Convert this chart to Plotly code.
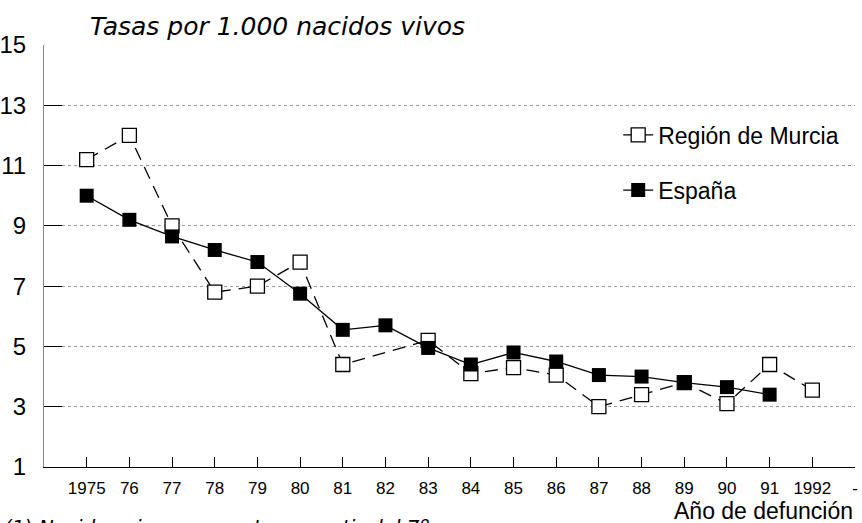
import plotly.graph_objects as go

# datos
anios = ['1975', '76', '77', '78', '79', '80', '81', '82', '83', '84',
         '85', '86', '87', '88', '89', '90', '91', '1992', '-']
murcia = [11.2, 12.0, 9.0, 6.8, 7.0, 7.8, 4.4, None, 5.2, 4.1,
          4.3, 4.05, 3.0, 3.4, 3.8, 3.1, 4.4, 3.55]
espana = [10.0, 9.2, 8.65, 8.2, 7.8, 6.75, 5.55, 5.7, 4.95, 4.4,
          4.8, 4.5, 4.05, 4.0, 3.8, 3.65, 3.4]
y_ticks = [1, 3, 5, 7, 9, 11, 13, 15]

pos = list(range(len(anios)))

fig = go.Figure()

fig.add_trace(go.Scatter(
    x=pos[:len(murcia)], y=murcia, name='Región de Murcia',
    mode='lines+markers', connectgaps=True,
    line=dict(color='black', width=1.3, dash='13px,8px'),
    marker=dict(symbol='square', size=14, color='white',
                line=dict(color='black', width=1.3)),
    legend='legend'
))
fig.add_trace(go.Scatter(
    x=pos[:len(espana)], y=espana, name='España',
    mode='lines+markers',
    line=dict(color='black', width=1.3),
    marker=dict(symbol='square', size=14, color='black'),
    legend='legend2'
))

leg_font = dict(family='Liberation Sans, Arial', size=23, color='black')
fig.update_layout(
    width=862, height=523,
    margin=dict(l=44, r=7, t=45, b=56),
    paper_bgcolor='white', plot_bgcolor='white',
    showlegend=True,
    legend=dict(x=0.708, xanchor='left', y=0.787, yanchor='middle',
                font=leg_font, bgcolor='rgba(0,0,0,0)'),
    legend2=dict(x=0.708, xanchor='left', y=0.656, yanchor='middle',
                 font=leg_font, bgcolor='rgba(0,0,0,0)'),
    xaxis=dict(
        range=[-1, len(anios) - 1], tickvals=pos, ticktext=anios,
        showgrid=False, zeroline=False, automargin=False,
        showline=True, linecolor='black', linewidth=1.3,
        ticks='inside', ticklen=10, tickwidth=1.2, tickcolor='black',
        ticklabelstandoff=5,
        tickfont=dict(family='Liberation Sans, Arial', size=17, color='black'),
    ),
    yaxis=dict(
        range=[1, 15], tickvals=y_ticks,
        showgrid=True, gridcolor='#999', griddash='dot', gridwidth=1,
        zeroline=False, automargin=False,
        showline=True, linecolor='#888', linewidth=1,
        ticks='inside', ticklen=18, tickwidth=1.3, tickcolor='black',
        ticklabelstandoff=12,
        tickfont=dict(family='Liberation Sans, Arial', size=24, color='black'),
    ),
)

fig.add_annotation(
    text='<i>Tasas por 1.000 nacidos vivos</i>', xref='paper', yref='paper',
    x=0.054, y=1.045, xanchor='left', yanchor='middle', showarrow=False,
    font=dict(family='DejaVu Sans', size=25, color='black')
)
fig.add_annotation(
    text='Año de defunción', xref='paper', yref='paper',
    x=1.0, y=-0.105, xanchor='right', yanchor='middle', showarrow=False,
    font=dict(family='Liberation Sans, Arial', size=23, color='black')
)
fig.add_annotation(
    text='<i>(1) Nacidos vivos y muertos a partir del 7º mes</i>',
    xref='paper', yref='paper',
    x=-0.052, y=-0.109, xanchor='left', yanchor='top', showarrow=False,
    font=dict(family='DejaVu Sans', size=20, color='black')
)

# quitar el margen por defecto del <body> para que la figura empiece en 0,0
fig.write_html("out.html", config={'displayModeBar': False},
               post_script="document.body.style.margin='0';")
